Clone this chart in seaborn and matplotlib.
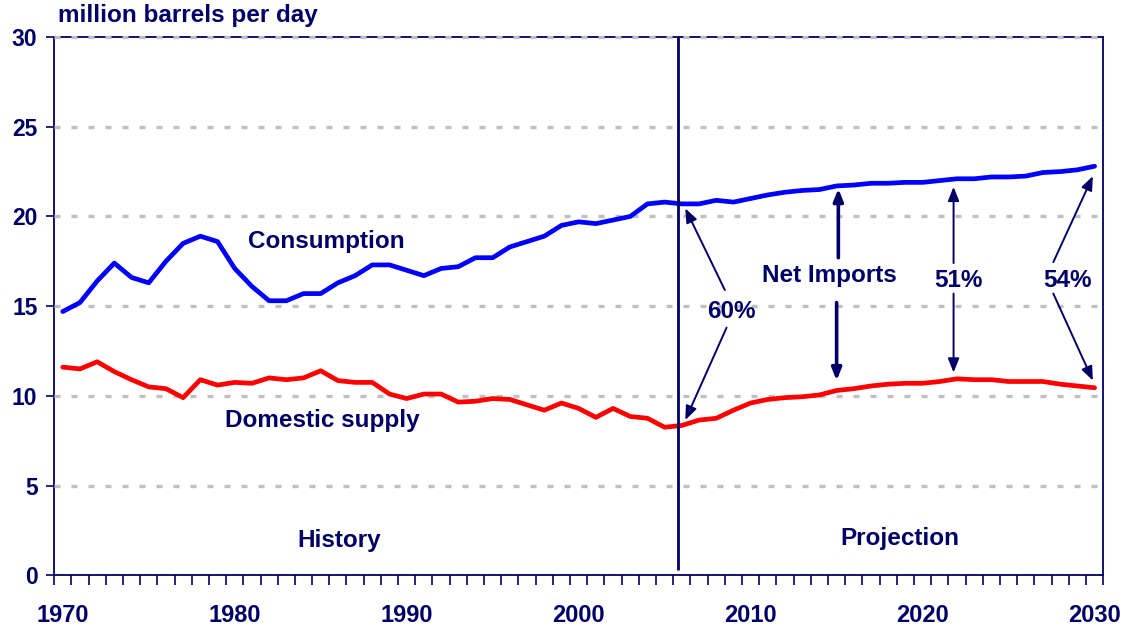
import numpy as np
import pandas as pd
import matplotlib
matplotlib.use("Agg")
import matplotlib.pyplot as plt
import seaborn as sns

# ---------------------------------------------------------------
# Data
# ---------------------------------------------------------------
years = list(range(1970, 2031))

consumption = [
    14.7, 15.2, 16.4, 17.4, 16.6, 16.3, 17.5, 18.5, 18.9, 18.6,   # 1970-79
    17.1, 16.1, 15.3, 15.3, 15.7, 15.7, 16.3, 16.7, 17.3, 17.3,   # 1980-89
    17.0, 16.7, 17.1, 17.2, 17.7, 17.7, 18.3, 18.6, 18.9, 19.5,   # 1990-99
    19.7, 19.6, 19.8, 20.0, 20.7, 20.8, 20.7,                     # 2000-06
    20.7, 20.9, 20.8, 21.0, 21.2, 21.35, 21.45, 21.5, 21.7, 21.75, # 2007-16
    21.85, 21.85, 21.9, 21.9, 22.0, 22.1, 22.1, 22.2, 22.2, 22.25, # 2017-26
    22.45, 22.5, 22.6, 22.8,                                      # 2027-30
]

domestic_supply = [
    11.6, 11.5, 11.9, 11.35, 10.9, 10.5, 10.4, 9.9, 10.9, 10.6,   # 1970-79
    10.75, 10.7, 11.0, 10.9, 11.0, 11.4, 10.85, 10.75, 10.75, 10.1, # 1980-89
    9.85, 10.1, 10.1, 9.65, 9.7, 9.85, 9.8, 9.5, 9.2, 9.6,       # 1990-99
    9.3, 8.8, 9.3, 8.85, 8.75, 8.25, 8.35,                       # 2000-06
    8.65, 8.75, 9.2, 9.6, 9.8, 9.9, 9.95, 10.05, 10.3, 10.4,     # 2007-16
    10.55, 10.65, 10.7, 10.7, 10.8, 10.95, 10.9, 10.9, 10.8, 10.8, # 2017-26
    10.8, 10.65, 10.55, 10.45,                                    # 2027-30
]

series_names = ["Consumption", "Domestic supply"]
share_labels = ["60%", "51%", "54%"]
decade_labels = [1970, 1980, 1990, 2000, 2010, 2020, 2030]
y_ticks = [0, 5, 10, 15, 20, 25, 30]

df = pd.DataFrame({
    "year": years * 2,
    "value": consumption + domestic_supply,
    "series": [series_names[0]] * len(years) + [series_names[1]] * len(years),
})

# ---------------------------------------------------------------
# Style
# ---------------------------------------------------------------
NAVY = "#000066"
sns.set_theme(style="white")
plt.rcParams["font.family"] = ["Liberation Sans", "DejaVu Sans"]
plt.rcParams["font.weight"] = "bold"

fig = plt.figure(figsize=(11.28, 6.28), dpi=100)
ax = fig.add_axes([0.048, 0.084, 0.930, 0.857])

# grid lines (grey, square dashes)
for yv in y_ticks[1:]:
    ax.axhline(yv, color="#c0c0c0", lw=2.4, ls=(0, (1.8, 3.3)), zorder=2.5,
               clip_on=False)

sns.lineplot(data=df, x="year", y="value", hue="series",
             palette={"Consumption": "#0000ff", "Domestic supply": "#ff0000"},
             lw=3.4, legend=False, ax=ax, zorder=3)

ax.set_xlim(1969.5, 2030.5)
ax.set_ylim(0, 30)
ax.set_xlabel("")
ax.set_ylabel("")

# y axis
ax.set_yticks(y_ticks)
ax.set_yticklabels([str(v) for v in y_ticks], fontsize=16.5, fontweight="bold", color=NAVY)
# x axis: labels at decades, tick marks at category boundaries
ax.set_xticks(decade_labels)
ax.set_xticklabels([str(v) for v in decade_labels], fontsize=17, fontweight="bold", color=NAVY)
ax.set_xticks(np.arange(1969.5, 2031, 1), minor=True)
ax.tick_params(axis="x", which="major", length=0, pad=21)
ax.tick_params(axis="x", which="minor", length=7, width=1.2, color=NAVY, direction="out", bottom=True)
ax.tick_params(axis="y", which="major", length=6, width=1.2, color=NAVY, direction="out", left=True, pad=6)

for side in ["left", "bottom", "right", "top"]:
    ax.spines[side].set_color(NAVY)
    ax.spines[side].set_linewidth(1.3)
    ax.spines[side].set_zorder(2)

# history / projection divider
ax.vlines(2005.8, 0.3, 30, color=NAVY, lw=2, zorder=4)

# unit label
fig.text(0.051, 0.975, "million barrels per day", fontsize=17.5, fontweight="bold",
         color=NAVY, ha="left", va="center")

txt = dict(fontsize=17.5, fontweight="bold", color=NAVY, ha="center", va="center")
ax.text(1985.3, 18.6, series_names[0], **txt)
ax.text(1985.1, 8.65, series_names[1], **txt)
ax.text(1986.1, 1.95, "History", **txt)
ax.text(2018.7, 2.05, "Projection", **txt)
ax.text(2014.6, 16.7, "Net Imports", **txt)
ax.text(2008.9, 14.7, share_labels[0], **txt)
ax.text(2022.1, 16.45, share_labels[1], **txt)
ax.text(2028.4, 16.45, share_labels[2], **txt)


def arrow(tail, tip, lw=1.4, head=0.7):
    ax.annotate("", xy=tip, xytext=tail,
                arrowprops=dict(arrowstyle=f"-|>,head_length={head},head_width={head * 0.4}",
                                color=NAVY, lw=lw, shrinkA=0, shrinkB=0), zorder=5)


# 60%
arrow((2008.5, 15.9), (2006.2, 20.45))
arrow((2008.6, 13.8), (2006.2, 8.65))
# Net Imports (bold)
arrow((2015.1, 17.7), (2015.1, 21.55), lw=2.6, head=0.6)
arrow((2015.0, 15.2), (2015.0, 10.85), lw=2.6, head=0.6)
# 51%
arrow((2021.8, 17.4), (2021.8, 21.65))
arrow((2021.8, 15.7), (2021.8, 11.3))
# 54%
arrow((2027.6, 17.45), (2029.9, 22.25))
arrow((2027.6, 15.7), (2029.9, 10.85))

fig.savefig("out.png", dpi=100)
